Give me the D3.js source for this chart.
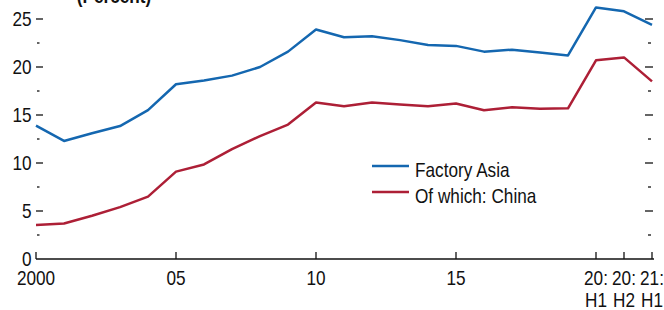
<!DOCTYPE html>
<html>
<head>
<meta charset="utf-8">
<script src="https://cdn.jsdelivr.net/npm/d3@7"></script>
<style>
  body { margin: 0; background: #fff; }
  svg text { font-family: "Liberation Sans Narrow", "Arial Narrow", "Liberation Sans", sans-serif; fill: #111; }
</style>
</head>
<body>
<div id="chart"></div>
<script>
// Periods (x axis)
const periods = ["2000","2001","2002","2003","2004","2005","2006","2007","2008","2009",
  "2010","2011","2012","2013","2014","2015","2016","2017","2018","2019",
  "2020H1","2020H2","2021H1"];
// Tick labels, two lines
const tickLabels = {
  "2000": ["2000"], "2005": ["05"], "2010": ["10"], "2015": ["15"],
  "2020H1": ["20:", "H1"], "2020H2": ["20:", "H2"], "2021H1": ["21:", "H1"]
};
const factoryAsia = [13.9, 12.3, 13.1, 13.85, 15.5, 18.2, 18.6, 19.1, 20.0, 21.6,
  23.9, 23.1, 23.2, 22.8, 22.3, 22.2, 21.6, 21.8, 21.5, 21.2,
  26.2, 25.8, 24.4];
const china = [3.55, 3.7, 4.5, 5.4, 6.5, 9.1, 9.85, 11.45, 12.8, 14.0,
  16.3, 15.9, 16.3, 16.1, 15.9, 16.2, 15.5, 15.8, 15.65, 15.7,
  20.7, 21.0, 18.5];
const seriesNames = ["Factory Asia", "Of which: China"];
const yTicks = [0, 5, 10, 15, 20, 25];

const w = 664, h = 310;
const mLeft = 36, mRight = 652, mTop = 19, mBottom = 259;
const squeeze = 0.86; // smal skrift efterlignes med vandret skalering

const svg = d3.select("#chart").append("svg")
  .attr("width", w).attr("height", h);

const x = d3.scalePoint().domain(periods).range([mLeft, mRight]);
const y = d3.scaleLinear().domain([0, 25]).range([mBottom, mTop]);

// Hjælper til tekst
function label(g, tx, ty, txt, anchor, bold) {
  return g.append("text")
    .attr("transform", `translate(${tx},${ty}) scale(${squeeze},1)`)
    .attr("text-anchor", anchor || "start")
    .style("font-size", "20px")
    .style("font-weight", bold ? "bold" : "normal")
    .text(txt);
}

// Titel (klippet i toppen)
label(svg, 114, 3, "(Percent)", "middle", true);

// Y-akse venstre: store og små ticks
const minor = d3.range(2.5, 25, 5);
svg.append("g").selectAll("line").data(yTicks.filter(d => d > 0)).enter()
  .append("line")
  .attr("x1", mLeft).attr("x2", mLeft + 7)
  .attr("y1", d => y(d)).attr("y2", d => y(d))
  .attr("stroke", "#111").attr("stroke-width", 1.3);
svg.append("g").selectAll("line").data(minor).enter()
  .append("line")
  .attr("x1", mLeft + 1).attr("x2", mLeft + 3.5)
  .attr("y1", d => y(d)).attr("y2", d => y(d))
  .attr("stroke", "#111").attr("stroke-width", 1.3);
const yg = svg.append("g");
yTicks.forEach(d => label(yg, 31.5, y(d) + 7, d, "end"));

// Y-akse højre
svg.append("g").selectAll("line").data(yTicks.filter(d => d > 0)).enter()
  .append("line")
  .attr("x1", mRight - 7).attr("x2", mRight + 1)
  .attr("y1", d => y(d)).attr("y2", d => y(d))
  .attr("stroke", "#111").attr("stroke-width", 1.3);
svg.append("g").selectAll("line").data(minor).enter()
  .append("line")
  .attr("x1", mRight - 4).attr("x2", mRight - 1)
  .attr("y1", d => y(d)).attr("y2", d => y(d))
  .attr("stroke", "#111").attr("stroke-width", 1.3);

// X-akse
const tickPeriods = Object.keys(tickLabels);
svg.append("line")
  .attr("x1", mLeft).attr("x2", mRight + 2)
  .attr("y1", mBottom).attr("y2", mBottom)
  .attr("stroke", "#111").attr("stroke-width", 1.5);
svg.append("g").selectAll("line").data(tickPeriods).enter()
  .append("line")
  .attr("x1", d => x(d)).attr("x2", d => x(d))
  .attr("y1", mBottom).attr("y2", mBottom - 7)
  .attr("stroke", "#111").attr("stroke-width", 1.3);
const xg = svg.append("g");
tickPeriods.forEach(p => {
  tickLabels[p].forEach((t, i) => label(xg, x(p), mBottom + 26 + i * 22, t, "middle"));
});

// Linjer
const colors = ["#1467b0", "#ad1f36"];
const line = d3.line().x((d, i) => x(periods[i])).y(d => y(d));
[factoryAsia, china].forEach((s, i) => {
  svg.append("path")
    .datum(s)
    .attr("d", line)
    .attr("fill", "none")
    .attr("stroke", colors[i])
    .attr("stroke-width", 2.5)
    .attr("stroke-linejoin", "round");
});

// Legende
seriesNames.forEach((n, i) => {
  const ly = 166 + i * 26;
  svg.append("line")
    .attr("x1", 372).attr("x2", 409)
    .attr("y1", ly).attr("y2", ly)
    .attr("stroke", colors[i]).attr("stroke-width", 2.5);
  label(svg, 415, ly + 11, n, "start");
});
</script>
</body>
</html>
